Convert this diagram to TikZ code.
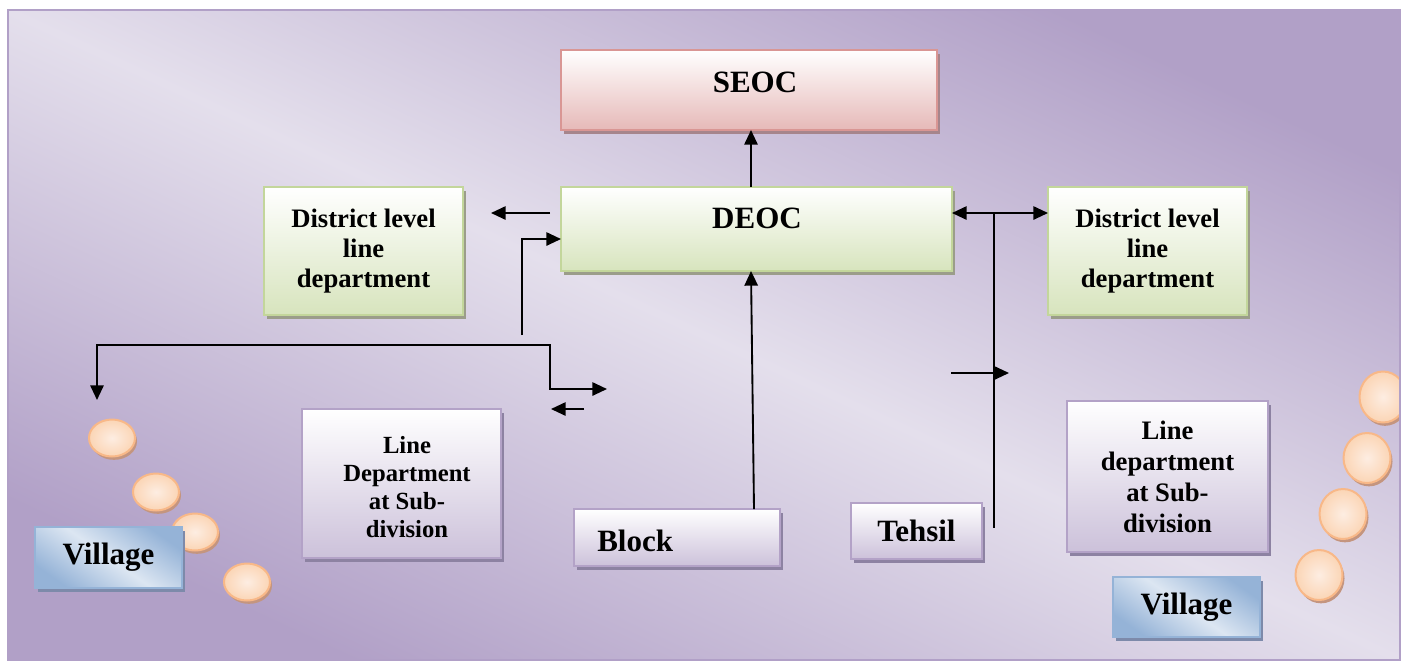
\documentclass[tikz,border=0pt]{standalone}
\usepackage{fontspec}
\setmainfont{Liberation Serif}
\usetikzlibrary{arrows.meta,shapes.geometric,shadows}

\definecolor{bglight}{HTML}{E4DFEC}
\definecolor{bgdark}{HTML}{B1A0C7}
\definecolor{seocfill}{HTML}{E6B9B8}
\definecolor{seocline}{HTML}{D99694}
\definecolor{seocshadow}{HTML}{A6858C}
\definecolor{grnfill}{HTML}{D7E4BD}
\definecolor{grnline}{HTML}{C3D69B}
\definecolor{grnshadow}{HTML}{9B9D8A}
\definecolor{lavfill}{HTML}{CCC1DA}
\definecolor{lavline}{HTML}{B3A2C7}
\definecolor{lavshadow}{HTML}{8D82A2}
\definecolor{vlight}{HTML}{DCE6F2}
\definecolor{vdark}{HTML}{95B3D7}
\definecolor{vshadow}{HTML}{7D8AAA}
\definecolor{pilllight}{HTML}{FDEDE2}
\definecolor{pillmid}{HTML}{FBD5B5}
\definecolor{pillline}{HTML}{F8B888}
\definecolor{pillshadow}{HTML}{C4957F}

\tikzset{
  boxsize/.style 2 args={minimum width=#1*0.75pt, minimum height=#2*0.75pt},
  basebox/.style={rectangle, inner sep=0pt, outer sep=0pt, line width=1.5pt, align=center},
  seocbox/.style={basebox, draw=seocline, top color=white, bottom color=seocfill,
    drop shadow={shadow xshift=2.5pt, shadow yshift=-3pt, fill=seocshadow, opacity=1}},
  grnbox/.style={basebox, draw=grnline, top color=white, bottom color=grnfill,
    drop shadow={shadow xshift=2.5pt, shadow yshift=-3pt, fill=grnshadow, opacity=1}},
  lavbox/.style={basebox, draw=lavline, top color=white, bottom color=lavfill,
    drop shadow={shadow xshift=2.5pt, shadow yshift=-3pt, fill=lavshadow, opacity=1}},
  vilbox/.style={basebox, draw=vdark, top color=vdark, bottom color=vdark, middle color=vlight, shading angle=-35,
    drop shadow={shadow xshift=2.5pt, shadow yshift=-3pt, fill=vshadow, opacity=1}},
  pill/.style={ellipse, inner sep=0pt, draw=pillline, line width=1.5pt, inner color=pilllight, outer color=pillmid,
    drop shadow={shadow xshift=1.5pt, shadow yshift=-2.5pt, fill=pillshadow, opacity=1}},
  bigtext/.style={font=\fontsize{23.25}{27}\selectfont\bfseries, inner sep=0pt},
  midtext/.style={font=\fontsize{20}{22.5}\selectfont\bfseries},
  ldtext/.style={font=\fontsize{18.5}{20.8}\selectfont\bfseries, align=center, inner sep=0pt},
  rdtext/.style={font=\fontsize{20}{23.2}\selectfont\bfseries},
  conn/.style={line width=1.4pt, black},
  arr/.style={conn, -{Triangle[length=11pt,width=10pt]}},
  darr/.style={conn, {Triangle[length=11pt,width=10pt]}-{Triangle[length=11pt,width=10pt]}},
}

\begin{document}
\begin{tikzpicture}[x=0.75pt,y=-0.75pt]
\useasboundingbox (0,0) rectangle (1402,662);

% background frame
\begin{scope}
  \clip (8,10) rectangle (1400,660);
  \shade[top color=bgdark, bottom color=bgdark, middle color=bglight, shading angle=-25]
    (8,10) rectangle (1400,660);
  % right pills
  \node[pill, boxsize={47}{51}] (r1) at (1383,397) {};
  \node[pill, boxsize={47}{50}] (r2) at (1367,458) {};
  \node[pill, boxsize={47}{50}] (r3) at (1343,514) {};
  \node[pill, boxsize={47}{50}] (r4) at (1319,575) {};
\end{scope}
\draw[bgdark, line width=1.5pt] (8,10) rectangle (1400,660);

% left pills
\node[pill, boxsize={46}{37}] (l1) at (112,438) {};
\node[pill, boxsize={46}{37}] (l2) at (156,492) {};
\node[pill, boxsize={46}{37}] (l3) at (195,532) {};
\node[pill, boxsize={46}{37}] (l4) at (247,582) {};

% boxes
\node[seocbox, boxsize={376}{80}] (seoc) at (749,90) {};
\node[bigtext] (seoct) at (755,82) {SEOC};
\node[grnbox, boxsize={391}{84}] (deoc) at (756.5,229) {};
\node[bigtext] (deoct) at (757,218) {DEOC};

\node[grnbox, midtext, boxsize={199}{128}] (dl) at (363.5,251) {District level\\line\\department};
\node[grnbox, midtext, boxsize={199}{128}] (dr) at (1147.5,251) {District level\\line\\department};

\node[lavbox, boxsize={199}{149}] (ll) at (401.5,483.5) {};
\node[ldtext] (llt) at (407,487) {Line\\Department\\at Sub-\\division};
\node[lavbox, rdtext, boxsize={201}{151}] (lr) at (1167.5,476.5) {Line\\department\\at Sub-\\division};

\node[lavbox, boxsize={206}{57}] (block) at (677,537.5) {};
\node[bigtext, anchor=west] (blockt) at (597,541) {Block};
\node[lavbox, bigtext, boxsize={131}{56}] (tehsil) at (916.5,531) {Tehsil};

\node[vilbox, bigtext, boxsize={147}{61}] (vl) at (108.5,557.5) {Village};
\node[vilbox, bigtext, boxsize={147}{60}] (vr) at (1186.5,607) {Village};

% helper coordinates
\coordinate (x751) at (751,0);
\coordinate (x754) at (754,0);
\coordinate (x994) at (994,0);
\coordinate (y213) at (0,213);
\coordinate (y239) at (0,239);
\coordinate (a2s) at (550,213);
\coordinate (a2e) at (491,213);
\coordinate (a3s) at (522,335);
\coordinate (p1) at (97,400);
\coordinate (p2) at (97,345);
\coordinate (p3) at (550,345);
\coordinate (p4) at (550,389);
\coordinate (p5) at (607,389);
\coordinate (a5s) at (584,409);
\coordinate (a5e) at (551,409);
\coordinate (t1) at (994,528);
\coordinate (a9s) at (951,373);
\coordinate (a9e) at (1009,373);

% connectors
\draw[arr] (deoc.north -| x751) -- (seoc.south -| x751);
\draw[arr] (a2s) -- (a2e);
\draw[arr] (a3s) |- (deoc.west |- y239);
\draw[darr] (p1) -- (p2) -- (p3) -- (p4) -- (p5);
\draw[arr] (a5s) -- (a5e);
\draw[arr] (block.north -| x754) -- (deoc.south -| x751);
\draw[darr] (deoc.east |- y213) -- (dr.west |- y213);
\draw[conn] (x994 |- y213) -- (t1);
\draw[arr] (a9s) -- (a9e);
\end{tikzpicture}
\end{document}
